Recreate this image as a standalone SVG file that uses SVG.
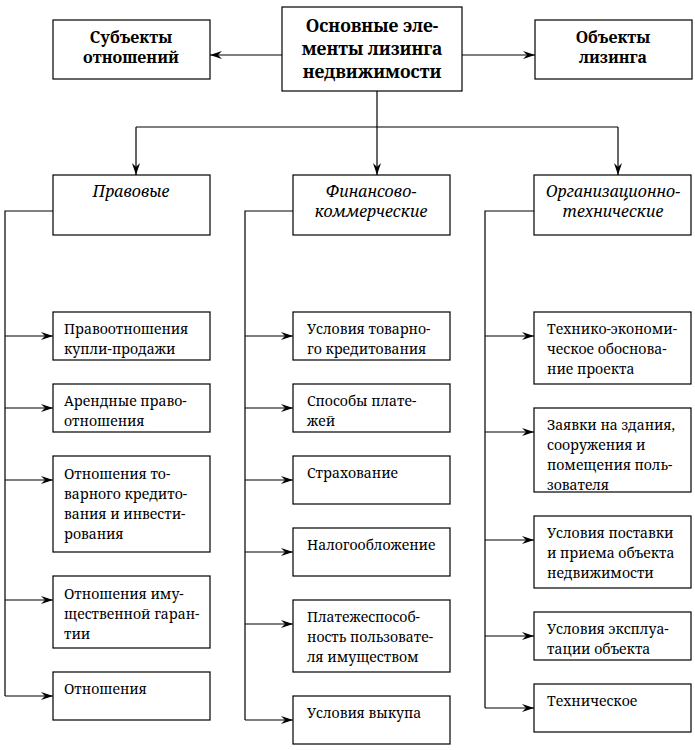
<svg xmlns="http://www.w3.org/2000/svg" width="695" height="750" viewBox="0 0 695 750">
<defs>
<marker id="ah" markerWidth="12" markerHeight="8" refX="12" refY="4" orient="auto" markerUnits="userSpaceOnUse">
<path d="M0,0 L12,4 L0,8 L4,4 Z" fill="#000"/>
</marker>
<style>
rect{fill:#fff;stroke:#000;stroke-width:1.2}
.c line,.c polyline{stroke:#000;stroke-width:1.2;fill:none}
.a{marker-end:url(#ah)}
text{font-family:"Noto Serif","DejaVu Serif","Liberation Serif",serif;fill:#000}
.t{font-size:14px}
.b{font-size:16px;font-weight:bold;text-anchor:middle}
.m{font-size:17.5px;font-weight:bold;text-anchor:middle}
.i{font-size:16px;font-style:italic;text-anchor:middle}
</style>
</defs>
<g class="c" id="connectors">
<line class="a" x1="282" y1="55" x2="210" y2="55"/>
<line class="a" x1="462" y1="55" x2="535" y2="55"/>
<line x1="377" y1="91" x2="377" y2="127"/>
<line x1="136" y1="127" x2="618" y2="127"/>
<line class="a" x1="136" y1="127" x2="136" y2="175"/>
<line class="a" x1="377" y1="127" x2="377" y2="175"/>
<line class="a" x1="618" y1="127" x2="618" y2="175"/>
<polyline points="53,211 5,211 5,696"/>
<line class="a" x1="5" y1="336" x2="53" y2="336"/>
<line class="a" x1="5" y1="408" x2="53" y2="408"/>
<line class="a" x1="5" y1="480" x2="53" y2="480"/>
<line class="a" x1="5" y1="600" x2="53" y2="600"/>
<line class="a" x1="5" y1="696" x2="53" y2="696"/>
<polyline points="293,211 245,211 245,720"/>
<line class="a" x1="245" y1="336" x2="293" y2="336"/>
<line class="a" x1="245" y1="408" x2="293" y2="408"/>
<line class="a" x1="245" y1="480" x2="293" y2="480"/>
<line class="a" x1="245" y1="552" x2="293" y2="552"/>
<line class="a" x1="245" y1="624" x2="293" y2="624"/>
<line class="a" x1="245" y1="720" x2="293" y2="720"/>
<polyline points="534,211 485,211 485,708"/>
<line class="a" x1="485" y1="336" x2="534" y2="336"/>
<line class="a" x1="485" y1="432" x2="534" y2="432"/>
<line class="a" x1="485" y1="540" x2="534" y2="540"/>
<line class="a" x1="485" y1="636" x2="534" y2="636"/>
<line class="a" x1="485" y1="708" x2="534" y2="708"/>
</g>
<g id="main"><rect x="282" y="7" width="180" height="84"/>
<text class="m"><tspan x="372" y="32">Основные эле-</tspan><tspan x="372" y="55">менты лизинга</tspan><tspan x="372" y="78">недвижимости</tspan></text></g>
<g id="subjects"><rect x="53" y="20" width="157" height="59"/>
<text class="b"><tspan x="131" y="43">Субъекты</tspan><tspan x="131" y="63">отношений</tspan></text></g>
<g id="objects"><rect x="535" y="20" width="157" height="59"/>
<text class="b"><tspan x="613" y="43">Объекты</tspan><tspan x="613" y="63">лизинга</tspan></text></g>
<g id="legal"><rect x="53" y="175" width="157" height="60"/>
<text class="i"><tspan x="131" y="197">Правовые</tspan></text></g>
<g id="finance"><rect x="293" y="175" width="157" height="60"/>
<text class="i"><tspan x="371" y="197">Финансово-</tspan><tspan x="371" y="217">коммерческие</tspan></text></g>
<g id="org"><rect x="534" y="175" width="157" height="60"/>
<text class="i"><tspan x="613" y="197">Организационно-</tspan><tspan x="613" y="217">технические</tspan></text></g>
<g id="l1"><rect x="53" y="312" width="157" height="48"/>
<text class="t"><tspan x="64" y="334">Правоотношения</tspan><tspan x="64" y="354">купли-продажи</tspan></text></g>
<g id="l2"><rect x="53" y="384" width="157" height="48"/>
<text class="t"><tspan x="64" y="406">Арендные право-</tspan><tspan x="64" y="426">отношения</tspan></text></g>
<g id="l3"><rect x="53" y="456" width="157" height="96"/>
<text class="t"><tspan x="64" y="479">Отношения то-</tspan><tspan x="64" y="499">варного кредито-</tspan><tspan x="64" y="519">вания и инвести-</tspan><tspan x="64" y="539">рования</tspan></text></g>
<g id="l4"><rect x="53" y="576" width="157" height="72"/>
<text class="t"><tspan x="64" y="599">Отношения иму-</tspan><tspan x="64" y="619">щественной гаран-</tspan><tspan x="64" y="639">тии</tspan></text></g>
<g id="l5"><rect x="53" y="672" width="157" height="48"/>
<text class="t"><tspan x="64" y="694">Отношения</tspan></text></g>
<g id="f1"><rect x="293" y="312" width="157" height="48"/>
<text class="t"><tspan x="307" y="334">Условия товарно-</tspan><tspan x="307" y="354">го кредитования</tspan></text></g>
<g id="f2"><rect x="293" y="384" width="157" height="48"/>
<text class="t"><tspan x="307" y="406">Способы плате-</tspan><tspan x="307" y="426">жей</tspan></text></g>
<g id="f3"><rect x="293" y="456" width="157" height="48"/>
<text class="t"><tspan x="307" y="478">Страхование</tspan></text></g>
<g id="f4"><rect x="293" y="528" width="157" height="48"/>
<text class="t"><tspan x="307" y="550">Налогообложение</tspan></text></g>
<g id="f5"><rect x="293" y="600" width="157" height="72"/>
<text class="t"><tspan x="307" y="622">Платежеспособ-</tspan><tspan x="307" y="642">ность пользовате-</tspan><tspan x="307" y="662">ля имуществом</tspan></text></g>
<g id="f6"><rect x="293" y="696" width="157" height="48"/>
<text class="t"><tspan x="307" y="718">Условия выкупа</tspan></text></g>
<g id="o1"><rect x="534" y="312" width="157" height="72"/>
<text class="t"><tspan x="547" y="334">Технико-экономи-</tspan><tspan x="547" y="354">ческое обоснова-</tspan><tspan x="547" y="374">ние проекта</tspan></text></g>
<g id="o2"><rect x="534" y="408" width="157" height="84"/>
<text class="t"><tspan x="547" y="430">Заявки на здания,</tspan><tspan x="547" y="450">сооружения и</tspan><tspan x="547" y="470">помещения поль-</tspan><tspan x="547" y="490">зователя</tspan></text></g>
<g id="o3"><rect x="534" y="516" width="157" height="72"/>
<text class="t"><tspan x="547" y="538">Условия поставки</tspan><tspan x="547" y="558">и приема объекта</tspan><tspan x="547" y="578">недвижимости</tspan></text></g>
<g id="o4"><rect x="534" y="612" width="157" height="48"/>
<text class="t"><tspan x="547" y="634">Условия эксплуа-</tspan><tspan x="547" y="654">тации объекта</tspan></text></g>
<g id="o5"><rect x="534" y="684" width="157" height="48"/>
<text class="t"><tspan x="547" y="706">Техническое</tspan></text></g>
</svg>
